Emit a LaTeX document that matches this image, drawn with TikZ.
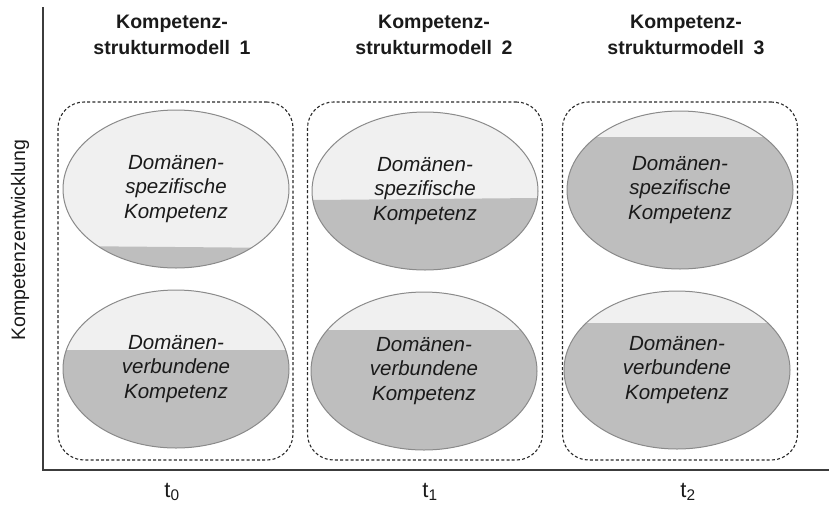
\documentclass[tikz,border=0pt]{standalone}
\usepackage{fontspec}
\setmainfont{Liberation Sans}
\usetikzlibrary{shapes.geometric}
\definecolor{lightfill}{HTML}{F0F0F0}
\definecolor{darkfill}{HTML}{BEBEBE}
\definecolor{ellborder}{HTML}{8A8A8A}
\definecolor{axiscol}{HTML}{3C3C3C}
\definecolor{txtcol}{HTML}{1A1A1A}
\definecolor{dashcol}{HTML}{2A2A2A}
\tikzset{
  comp/.style={ellipse, draw=ellborder, line width=1pt, fill=lightfill,
    minimum width=226pt, minimum height=158pt, inner sep=0pt,
    align=center, text=txtcol,
    font=\fontsize{20.5}{24.5}\selectfont\itshape},
  level/.style 2 args={path picture={
    \fill[darkfill] (path picture bounding box.south west)
      -- (path picture bounding box.south east)
      -- ([yshift=-#2pt]path picture bounding box.north east)
      -- ([yshift=-#1pt]path picture bounding box.north west) -- cycle;}},
  groupbox/.style={draw=dashcol, line width=1.1pt, dash pattern=on 3pt off 2.2pt,
    rounded corners=26pt, minimum width=235pt, minimum height=358pt, inner sep=0pt},
  title/.style={font=\fontsize{19.5}{26}\selectfont\bfseries, align=center, text=txtcol},
  tlabel/.style={font=\fontsize{22}{24}\selectfont, text=txtcol},
  axis/.style={draw=axiscol, line width=2.2pt}
}
\begin{document}
\begin{tikzpicture}[x=1pt,y=-1pt]
\useasboundingbox (0,0) rectangle (829,504);
% group boxes
\node[groupbox] (g1) at (175.5,281) {};
\node[groupbox] (g2) at (425,281) {};
\node[groupbox] (g3) at (680,281) {};
% ellipses
\node[comp, level={136}{138}] (e1a) at (176,189) {Domänen-\\spezifische\\Kompetenz};
\node[comp, level={60}{60}] (e1b) at (176,369) {Domänen-\\verbundene\\Kompetenz};
\node[comp, level={88}{86}] (e2a) at (425,191) {Domänen-\\spezifische\\Kompetenz};
\node[comp, level={38}{38}] (e2b) at (424,371) {Domänen-\\verbundene\\Kompetenz};
\node[comp, level={26}{26}] (e3a) at (680,190) {Domänen-\\spezifische\\Kompetenz};
\node[comp, level={32}{32}] (e3b) at (677,370) {Domänen-\\verbundene\\Kompetenz};
% titles
\node[title] (h1) at (172,35) {Kompetenz-\\strukturmodell\hspace{0.5em}1};
\node[title] (h2) at (434,35) {Kompetenz-\\strukturmodell\hspace{0.5em}2};
\node[title] (h3) at (686,35) {Kompetenz-\\strukturmodell\hspace{0.5em}3};
% axes
\coordinate (top) at (43,8);
\coordinate (origin) at (43,470);
\coordinate (right) at (829,470);
\draw[axis, line cap=rect] (top) -- (origin) -- (right);
% axis labels
\node[rotate=90, font=\fontsize{19.5}{22}\selectfont, text=txtcol] (ylab) at (20,240) {Kompetenzentwicklung};
\node[tlabel] (t0) at (172,492) {t\textsubscript{0}};
\node[tlabel] (t1) at (430,492) {t\textsubscript{1}};
\node[tlabel] (t2) at (688,492) {t\textsubscript{2}};
\end{tikzpicture}
\end{document}
